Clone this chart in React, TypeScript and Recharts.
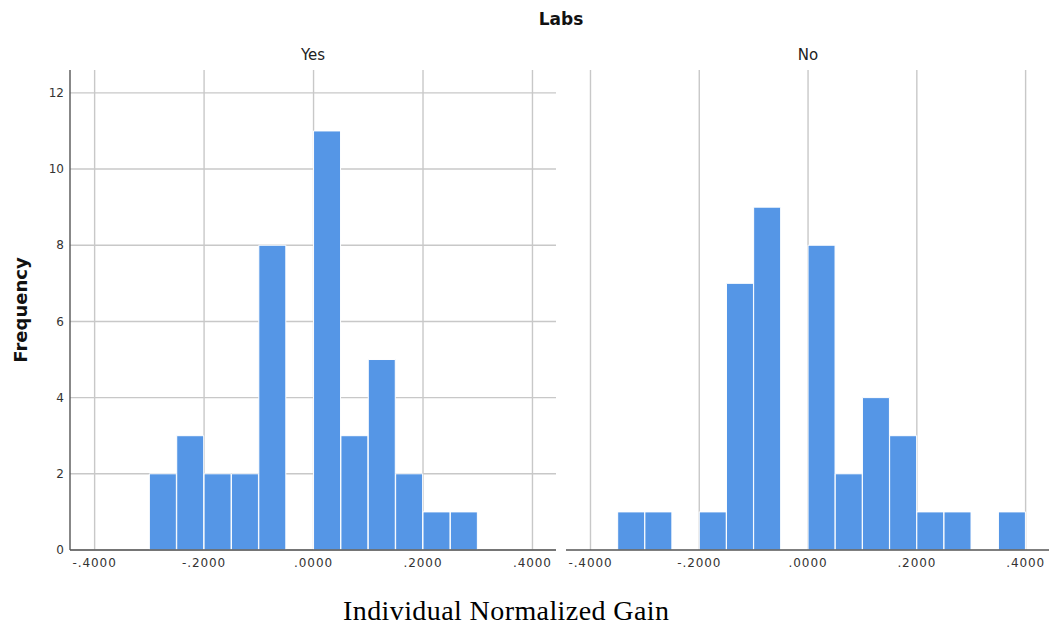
import { BarChart, Bar, XAxis, YAxis, CartesianGrid } from "recharts";

// histogram bins of width .05, from -.40 to .40 (centres)
const binCenters = [
  -0.375, -0.325, -0.275, -0.225, -0.175, -0.125, -0.075, -0.025,
  0.025, 0.075, 0.125, 0.175, 0.225, 0.275, 0.325, 0.375,
];
const yesCounts = [0, 0, 2, 3, 2, 2, 8, 0, 11, 3, 5, 2, 1, 1, 0, 0];
const noCounts = [0, 1, 1, 0, 1, 7, 9, 0, 8, 2, 4, 3, 1, 1, 0, 1];

const xTicks = [-0.4, -0.2, 0, 0.2, 0.4];
const yTicks = [0, 2, 4, 6, 8, 10, 12];

const BAR = "#5596e6";
const GRID = "#c8c8c8";
const AXIS = "#555555";
const SANS = "'DejaVu Sans', Verdana, sans-serif";

const fmt = (v: number) => {
  const s = Math.abs(v).toFixed(4).replace(/^0/, "");
  return v < -1e-9 ? "-" + s : s;
};

function Panel({
  counts,
  left,
  width,
  showY,
}: {
  counts: number[];
  left: number;
  width: number;
  showY: boolean;
}) {
  const data = binCenters.map((mid, i) => ({ mid, count: counts[i] }));
  return (
    <div style={{ position: "absolute", left, top: 0 }}>
      <BarChart
        width={width}
        height={590}
        data={data}
        margin={{ top: 70, right: showY ? 4 : 0, bottom: 10, left: showY ? 10 : 6 }}
        barCategoryGap={0}
        barGap={0}
      >
        <CartesianGrid stroke={GRID} strokeWidth={1.4} horizontalValues={yTicks} verticalValues={xTicks} />
        <Bar dataKey="count" fill={BAR} stroke="#ffffff" strokeWidth={1} isAnimationActive={false} />
        <XAxis
          dataKey="mid"
          type="number"
          domain={[-0.445, 0.443]}
          allowDataOverflow
          ticks={xTicks}
          tickFormatter={fmt}
          tickLine={false}
          axisLine={{ stroke: AXIS, strokeWidth: 1.4 }}
          height={30}
          tick={{ fill: "#333", fontSize: 12, fontFamily: SANS, letterSpacing: 0.9 }}
        />
        <YAxis
          type="number"
          domain={[0, 12.6]}
          allowDataOverflow
          ticks={yTicks}
          width={showY ? 60 : 0}
          tick={showY ? { fill: "#333", fontSize: 12, fontFamily: SANS } : false}
          tickLine={false}
          tickSize={4}
          axisLine={{ stroke: AXIS, strokeWidth: 1.4 }}
        />
      </BarChart>
    </div>
  );
}

export default function App() {
  return (
    <div
      style={{
        position: "absolute",
        left: 0,
        top: 0,
        width: 1049,
        height: 629,
        background: "#fff",
        overflow: "hidden",
      }}
    >
      <Panel counts={yesCounts} left={0} width={560} showY />
      <Panel counts={noCounts} left={560} width={489} showY={false} />
      <svg
        width={1049}
        height={629}
        style={{ position: "absolute", left: 0, top: 0, pointerEvents: "none" }}
      >
        <text x={561} y={25} textAnchor="middle" fontFamily={SANS} fontWeight="bold" fontSize={17} fill="#111">
          Labs
        </text>
        <text x={313} y={60} textAnchor="middle" fontFamily={SANS} fontSize={15} fill="#222">
          Yes
        </text>
        <text x={808} y={60} textAnchor="middle" fontFamily={SANS} fontSize={15} fill="#222">
          No
        </text>
        <text
          x={0}
          y={0}
          transform="translate(27,310) rotate(-90)"
          textAnchor="middle"
          fontFamily={SANS}
          fontWeight="bold"
          fontSize={18}
          fill="#111"
        >
          Frequency
        </text>
        <text
          x={506}
          y={620}
          textAnchor="middle"
          fontFamily="'Liberation Serif', 'Times New Roman', serif"
          fontSize={28}
          textLength={326}
          lengthAdjust="spacing"
          fill="#000"
        >
          Individual Normalized Gain
        </text>
      </svg>
    </div>
  );
}
